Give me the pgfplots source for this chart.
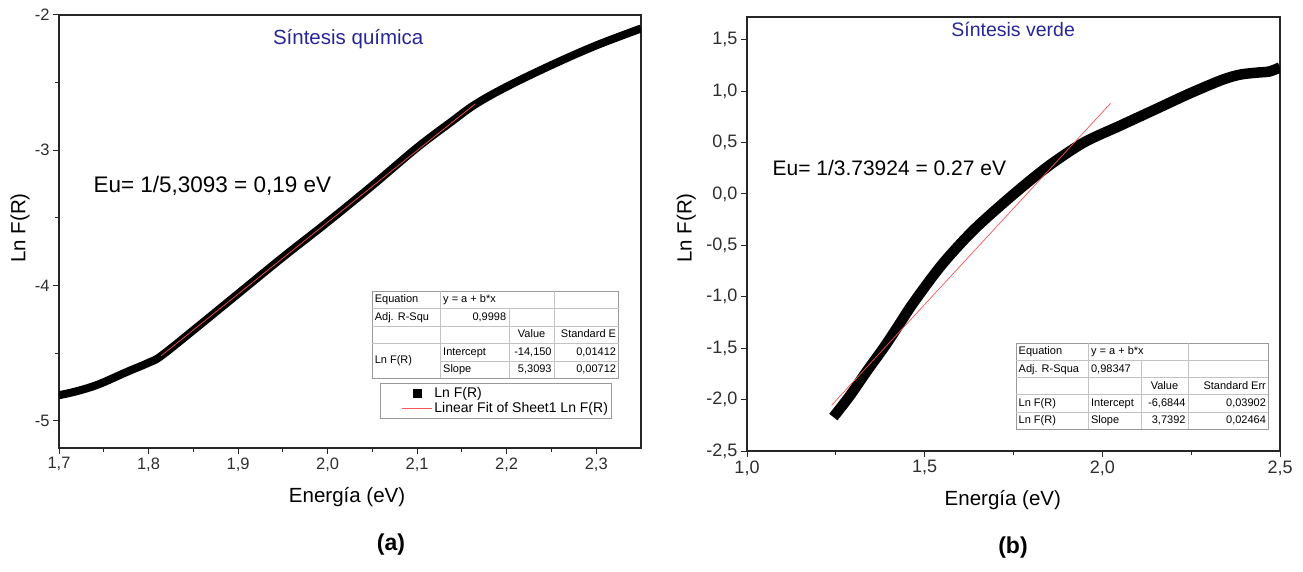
\documentclass[border=0pt]{standalone}
\usepackage{pgfplots}
\pgfplotsset{compat=1.18}
\usepackage{fontspec}
\setmainfont{Liberation Sans}
\usepackage{array}
\usepackage{colortbl}
\usepackage{multirow}
\definecolor{titleblue}{RGB}{38,38,150}
\definecolor{fitred}{RGB}{245,85,85}
\definecolor{tickgray}{RGB}{45,45,45}
\definecolor{gridgray}{RGB}{195,195,195}
\newcolumntype{L}[1]{>{\raggedright\arraybackslash}p{#1}}
\newcolumntype{R}[1]{>{\raggedleft\arraybackslash}p{#1}}
\newcolumntype{C}[1]{>{\centering\arraybackslash}p{#1}}

\pgfplotsset{
  mystyle/.style={
    scale only axis,
    axis line style={black!85, line width=1.1pt},
    tick style={black!85, line width=1pt},
    major tick length=6pt,
    minor tick length=4pt,
    tick align=outside,
    tick pos=left,
    /pgf/number format/assume math mode=true,
    ticklabel style={font=\fontsize{16.5}{19}\selectfont, text=tickgray},
    label style={font=\fontsize{20.5}{23}\selectfont},
    xticklabel style={/pgf/number format/.cd, use comma, fixed, fixed zerofill, precision=1},
  }
}

\newsavebox\tabA
\newsavebox\tabB

\begin{document}
\sbox\tabA{\fontsize{11}{12}\selectfont\arrayrulecolor{gridgray}\renewcommand\arraystretch{1.43}\setlength\tabcolsep{2.5pt}%
\begin{tabular}{L{63pt}|L{63pt}|R{40pt}|R{59pt}}
Equation & \multicolumn{2}{L{108.4pt}|}{y = a + b*x} & \\ \hline
Adj. R-Squ & \multicolumn{1}{R{63pt}|}{0,9998} & & \\ \hline
 & & \multicolumn{1}{C{40pt}|}{Value} & Standard E \\ \hline
\multirow{2}{*}{Ln F(R)} & Intercept & -14,150 & 0,01412 \\ \cline{2-4}
 & Slope & 5,3093 & 0,00712 \\
\end{tabular}}%
\sbox\tabB{\fontsize{11}{12}\selectfont\arrayrulecolor{gridgray}\renewcommand\arraystretch{1.4}\setlength\tabcolsep{2.5pt}%
\begin{tabular}{L{67pt}|L{47pt}|R{42pt}|R{75pt}}
Equation & \multicolumn{2}{L{94.4pt}|}{y = a + b*x} & \\ \hline
Adj. R-Squa & \multicolumn{1}{L{47pt}|}{0,98347} & & \\ \hline
 & & \multicolumn{1}{C{42pt}|}{Value} & Standard Err \\ \hline
Ln F(R) & Intercept & -6,6844 & 0,03902 \\ \hline
Ln F(R) & Slope & 3,7392 & 0,02464 \\
\end{tabular}}%
\begin{tikzpicture}
\path[use as bounding box] (0,0) rectangle (1303pt,571pt);

% ---------------- (a) ----------------
\begin{axis}[mystyle,
  at={(59pt,123pt)}, anchor=south west,
  width=582pt, height=433pt,
  xmin=1.7, xmax=2.35, ymin=-5.2, ymax=-2,
  xtick={1.7,1.8,1.9,2.0,2.1,2.2,2.3},
  minor x tick num=1,
  ytick={-5,-4,-3,-2},
  minor y tick num=1,
  xlabel={Energía (eV)},
  ylabel={Ln F(R)},
  xlabel style={at={(axis description cs:0.495,-0.113)}, anchor=center},
  ylabel style={at={(axis description cs:-0.067,0.508)}, anchor=center},
  legend style={at={(axis cs:2.0587,-4.723)}, anchor=north west,
    draw=gray!80, font=\fontsize{14}{16}\selectfont, inner sep=1.5pt,
    row sep=0pt, legend cell align=left},
]
\addlegendimage{legend image code/.code={\path[draw=none] (0pt,0pt) -- (50pt,0pt); \fill[black] (31pt,-4pt) rectangle (39pt,4pt);}}
\addlegendentry{Ln F(R)}
\addplot[black, line width=8pt, smooth, tension=0.6, forget plot] coordinates {
(1.700,-4.81) (1.720,-4.78) (1.744,-4.73) (1.775,-4.64) (1.800,-4.57)
(1.814,-4.52) (1.850,-4.33) (1.900,-4.06) (1.950,-3.79) (2.000,-3.53)
(2.050,-3.26) (2.100,-2.98) (2.138,-2.79) (2.165,-2.66) (2.200,-2.53)
(2.250,-2.37) (2.300,-2.225) (2.350,-2.10)
};
\addplot[fitred, line width=0.7pt,
  legend image code/.code={\path[draw=none] (0pt,0pt) -- (50pt,0pt); \path[draw=fitred, line width=1.1pt] (20pt,0pt) -- (50pt,0pt);}]
  coordinates {(1.814,-4.519) (2.165,-2.656)};
\addlegendentry{Linear Fit of Sheet1 Ln F(R)}
\node[text=titleblue, font=\fontsize{20.5}{23}\selectfont] at (axis cs:2.023,-2.177) {Síntesis química};
\node[anchor=west, font=\fontsize{22.5}{25}\selectfont] at (axis cs:1.7346,-3.262) {Eu= 1/5,3093 = 0,19 eV};
\node[anchor=north west, draw=gray!80, fill=white, inner sep=0pt] at (axis cs:2.0497,-4.037) {\usebox\tabA};
\end{axis}

% ---------------- (b) ----------------
\begin{axis}[mystyle,
  at={(747pt,120pt)}, anchor=south west,
  width=533pt, height=434pt,
  xmin=1.0, xmax=2.5, ymin=-2.5, ymax=1.72,
  xtick={1.0,1.5,2.0,2.5},
  minor x tick num=1,
  ytick={-2.5,-2.0,-1.5,-1.0,-0.5,0.0,0.5,1.0,1.5},
  ticklabel style={font=\fontsize{18}{20}\selectfont},
  yticklabel style={/pgf/number format/.cd, use comma, fixed, fixed zerofill, precision=1},
  xlabel={Energía (eV)},
  ylabel={Ln F(R)},
  xlabel style={at={(axis description cs:0.48,-0.113)}, anchor=center},
  ylabel style={at={(axis description cs:-0.114,0.514)}, anchor=center},
]
\addplot[black, line width=10.5pt, smooth, tension=0.5] coordinates {
(1.243,-2.17) (1.288,-1.97) (1.338,-1.72) (1.388,-1.48) (1.430,-1.26)
(1.468,-1.06) (1.548,-0.69) (1.638,-0.35) (1.748,-0.01) (1.848,0.27)
(1.948,0.50) (2.048,0.66) (2.148,0.82) (2.248,0.98) (2.338,1.11)
(2.388,1.16) (2.438,1.18) (2.470,1.19) (2.500,1.23)
};
\addplot[fitred, line width=0.7pt] coordinates {(1.238,-2.055) (2.023,0.880)};
\node[text=titleblue, font=\fontsize{19.5}{22}\selectfont] at (axis cs:1.749,1.597) {Síntesis verde};
\node[anchor=west, font=\fontsize{21}{24}\selectfont] at (axis cs:1.062,0.254) {Eu= 1/3.73924 = 0.27 eV};
\node[anchor=north west, draw=gray!80, fill=white, inner sep=0pt] at (axis cs:1.757,-1.449) {\usebox\tabB};
\end{axis}

\node[font=\bfseries\fontsize{23}{26}\selectfont] at (391pt,26pt) {(a)};
\node[font=\bfseries\fontsize{23}{26}\selectfont] at (1013pt,23pt) {(b)};
\end{tikzpicture}
\end{document}
